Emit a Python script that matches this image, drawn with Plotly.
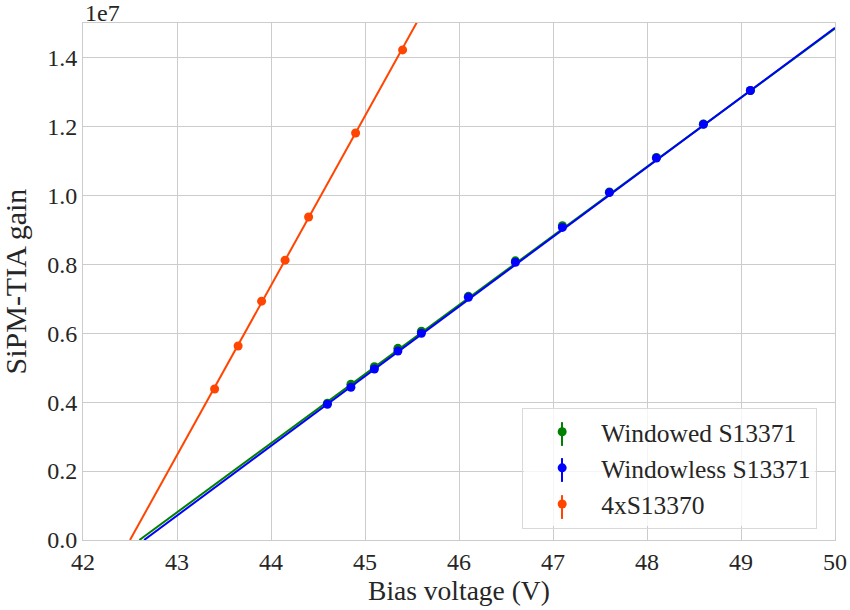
import plotly.graph_objects as go

# Data
windowed_v = [44.6, 44.85, 45.1, 45.35, 45.6, 46.1, 46.6, 47.1, 47.6, 48.1, 48.6, 49.1]
windowed_gain = [3.97e6, 4.52e6, 5.03e6, 5.56e6, 6.06e6, 7.07e6, 8.10e6, 9.12e6, 10.10e6, 11.10e6, 12.07e6, 13.04e6]
windowed_err = [2e4] * 12

windowless_v = [44.6, 44.85, 45.1, 45.35, 45.6, 46.1, 46.6, 47.1, 47.6, 48.1, 48.6, 49.1]
windowless_gain = [3.94e6, 4.43e6, 4.96e6, 5.48e6, 6.00e6, 7.04e6, 8.06e6, 9.07e6, 10.08e6, 11.08e6, 12.06e6, 13.04e6]
windowless_err = [2e4] * 12

s13370_v = [43.4, 43.65, 43.9, 44.15, 44.4, 44.9, 45.4]
s13370_gain = [4.38e6, 5.63e6, 6.93e6, 8.12e6, 9.37e6, 11.81e6, 14.22e6]
s13370_err = [2e4] * 7

# Linear-fit lines (end points)
windowed_fit_v = [42.60, 50.0]
windowed_fit_gain = [0.0, 1.484e7]
windowless_fit_v = [42.65, 50.0]
windowless_fit_gain = [0.0, 1.486e7]
s13370_fit_v = [42.50, 45.80]
s13370_fit_gain = [0.0, 1.624e7]

y_tickvals = [0, 2e6, 4e6, 6e6, 8e6, 10e6, 12e6, 14e6]
y_ticktext = ["0.0", "0.2", "0.4", "0.6", "0.8", "1.0", "1.2", "1.4"]
x_tickvals = [42, 43, 44, 45, 46, 47, 48, 49, 50]

FONT = "'Liberation Serif', 'Times New Roman', serif"
TXT = "#262626"
GRID = "#cccccc"
TICK_FS = 24
TITLE_FS = 27.5
YTITLE_FS = 30
LEG_FS = 25.5

fig = go.Figure()

series = [
    ("Windowed S13371", "green", windowed_v, windowed_gain, windowed_err, windowed_fit_v, windowed_fit_gain),
    ("Windowless S13371", "blue", windowless_v, windowless_gain, windowless_err, windowless_fit_v, windowless_fit_gain),
    ("4xS13370", "orangered", s13370_v, s13370_gain, s13370_err, s13370_fit_v, s13370_fit_gain),
]

for name, color, xv, yv, ev, fx, fy in series:
    fig.add_trace(go.Scatter(
        x=fx, y=fy, mode="lines", line=dict(color=color, width=2),
        showlegend=False, hoverinfo="skip", legendgroup=name))
    fig.add_trace(go.Scatter(
        x=xv, y=yv, mode="markers", name=name, legendgroup=name,
        marker=dict(color=color, size=9),
        error_y=dict(type="data", array=ev, visible=True, color=color, thickness=1.5, width=0)))

# semi-opaque legend background (drawn as a shape so the glyph strokes can sit on top)
shapes = [dict(type="rect", xref="paper", yref="paper",
               x0=0.586, x1=0.974, y0=0.027, y1=0.255,
               fillcolor="rgba(255,255,255,0.8)", line=dict(width=0), layer="above")]

# vertical error-bar strokes through the legend glyphs (paper coordinates)
legend_glyph_x = 0.637
legend_glyph_y = [0.205, 0.1354, 0.0638]
legend_glyph_half = 0.023
for (name, color, *_), gy in zip(series, legend_glyph_y):
    shapes.append(dict(type="line", xref="paper", yref="paper",
                       x0=legend_glyph_x, x1=legend_glyph_x,
                       y0=gy - legend_glyph_half, y1=gy + legend_glyph_half,
                       line=dict(color=color, width=2), layer="above"))

fig.update_layout(
    width=850, height=610,
    margin=dict(l=83, r=15, t=23, b=70, autoexpand=False),
    paper_bgcolor="white", plot_bgcolor="white",
    font=dict(family=FONT, size=TICK_FS, color=TXT),
    legend=dict(
        x=0.584, y=0.256, xanchor="left", yanchor="top",
        bgcolor="rgba(255,255,255,0)", bordercolor="#d9d9d9", borderwidth=1,
        font=dict(family=FONT, size=LEG_FS, color=TXT),
        itemwidth=68, tracegroupgap=0,
    ),
    xaxis=dict(
        range=[42, 50], tickvals=x_tickvals, showgrid=True, gridcolor=GRID, gridwidth=1,
        zeroline=False, showline=True, linecolor=GRID, linewidth=1, mirror=True,
        ticks="", tickfont=dict(family=FONT, size=TICK_FS, color=TXT), automargin=False,
        title=dict(text="Bias voltage (V)", font=dict(family=FONT, size=TITLE_FS, color=TXT), standoff=2),
    ),
    yaxis=dict(
        range=[0, 1.5e7], tickvals=y_tickvals, ticktext=y_ticktext, showgrid=True,
        gridcolor=GRID, gridwidth=1, zeroline=False, showline=True, linecolor=GRID,
        linewidth=1, mirror=True, ticks="", tickfont=dict(family=FONT, size=TICK_FS, color=TXT),
        automargin=False,
    ),
    shapes=shapes,
    annotations=[
        dict(text="1e7", xref="paper", yref="paper", x=0.0, y=1.0, xanchor="left", yanchor="bottom",
             showarrow=False, font=dict(family=FONT, size=TICK_FS, color=TXT), yshift=-5),
        dict(text="SiPM-TIA gain", xref="paper", yref="paper", x=-0.0891, y=0.5,
             xanchor="center", yanchor="middle", textangle=-90, showarrow=False,
             font=dict(family=FONT, size=YTITLE_FS, color=TXT)),
    ],
)

fig.write_html("out.html", config={"displayModeBar": False},
               post_script="document.body.style.margin='0';document.body.style.padding='0';")
